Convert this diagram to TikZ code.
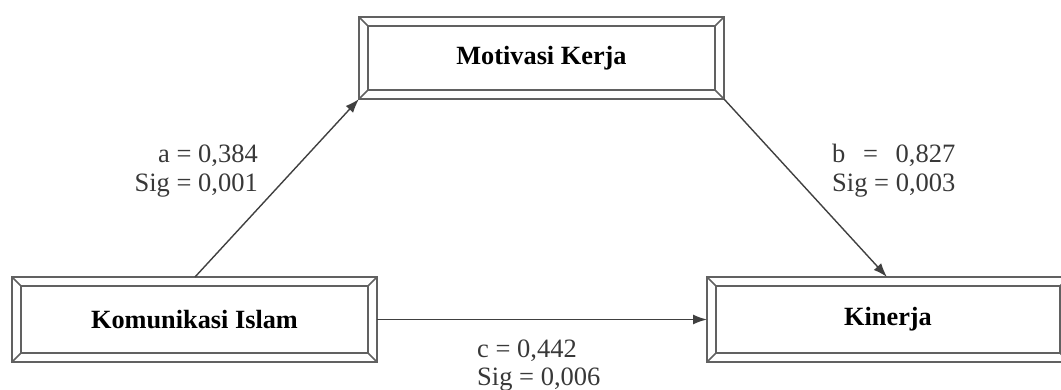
\documentclass[tikz,border=0pt]{standalone}
\usepackage{fontspec}
\setmainfont{Liberation Serif}
\usepackage{calc}
\usetikzlibrary{arrows.meta}
\tikzset{
  boxnode/.style={draw=none, inner sep=0pt, outer sep=0pt, minimum width=365pt, minimum height=84pt,
    font=\fontsize{26.3}{28}\selectfont\bfseries, text=black},
  frameline/.style={draw=black!62, line width=1.6pt},
  edgeline/.style={draw=black!75, line width=1.4pt, -{Latex[length=14pt,width=10pt]}},
  lbl/.style={inner sep=0pt, font=\fontsize{26.5}{28}\selectfont, text=black!78}
}
\newcommand\bevelframe[1]{%
  \draw[frameline] (#1.north west) rectangle (#1.south east);
  \draw[frameline] ([shift={(9,9)}]#1.north west) rectangle ([shift={(-9,-9)}]#1.south east);
  \draw[frameline] (#1.north west) -- ([shift={(9,9)}]#1.north west);
  \draw[frameline] (#1.north east) -- ([shift={(-9,9)}]#1.north east);
  \draw[frameline] (#1.south west) -- ([shift={(9,-9)}]#1.south west);
  \draw[frameline] (#1.south east) -- ([shift={(-9,-9)}]#1.south east);
}
\begin{document}
\begin{tikzpicture}[x=1pt,y=-1pt]
\useasboundingbox (0,0) rectangle (1061,390);
\clip (0,0) rectangle (1061,390);
\node[boxnode, minimum height=82pt] (mk) at (541.5,58) {Motivasi Kerja};
\node[boxnode, minimum height=85pt] (ki) at (194.5,319.5) {Komunikasi Islam};
\node[boxnode, minimum height=85pt, minimum width=362pt] (kn) at (888,319.5) {Kinerja};
\bevelframe{mk}
\bevelframe{ki}
\bevelframe{kn}
\coordinate (aS) at (195,277);
\coordinate (bE) at (887,277);
\draw[edgeline] (aS) -- (mk.south west);
\draw[edgeline] (mk.south east) -- (bE);
\draw[edgeline] (ki.east) -- (kn.west);
\node[lbl, anchor=base east] (a1) at (258,163) {a = 0,384};
\node[lbl, anchor=base east] (a2) at (258,192) {Sig = 0,001};
\node[lbl, anchor=base west] (b1) at (832,163) {\makebox[\widthof{Sig = 0,003}][s]{b = 0,827}};
\node[lbl, anchor=base west] (b2) at (832,192) {Sig = 0,003};
\node[lbl, anchor=base west] (c1) at (477,357) {c = 0,442};
\node[lbl, anchor=base west] (c2) at (477,385) {Sig = 0,006};
\end{tikzpicture}
\end{document}
